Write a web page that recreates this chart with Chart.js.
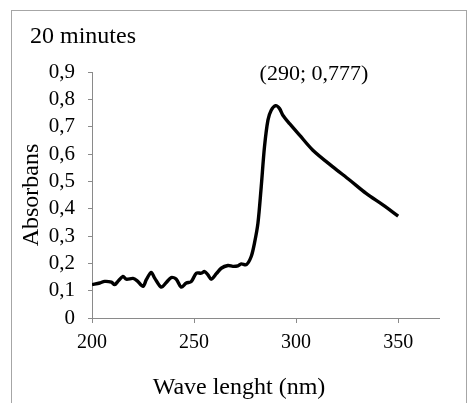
<!DOCTYPE html>
<html>
<head>
<meta charset="utf-8">
<script src="https://cdn.jsdelivr.net/npm/chart.js@4"></script>
<style>
  html, body { margin: 0; padding: 0; background: #fff; }
  #wrap { width: 469px; height: 403px; position: relative; }
</style>
</head>
<body>
<div id="wrap"><canvas id="spectrum" width="469" height="403"></canvas></div>
<script>
        // Absorbance spectrum
        const waveLengths = [200, 203.8, 206.2, 209.5, 211.1, 212.7, 215.2, 216.8, 220.1, 222, 225, 226.6, 229, 230.7,
            233.9, 236.4, 238.8, 241.3, 243.7, 246.2, 248.6, 251.1, 253.5, 255.2, 256.8, 258.4, 260.9, 263.3,
            266.6, 269, 271.5, 273.1, 275.6, 278, 279.6, 281.3, 282.9, 284.5, 286.2, 287.8, 290, 291.9, 293.5,
            296.8, 301.7, 308.2, 318, 326.2, 334.3, 342.5, 350];
        const absorbance = [0.122, 0.128, 0.134, 0.131, 0.122, 0.134, 0.152, 0.142, 0.145, 0.137, 0.116, 0.14, 0.167, 0.146,
            0.113, 0.13, 0.148, 0.142, 0.113, 0.128, 0.133, 0.164, 0.164, 0.17, 0.158, 0.142, 0.162, 0.182,
            0.192, 0.189, 0.191, 0.198, 0.195, 0.225, 0.274, 0.347, 0.48, 0.626, 0.724, 0.76, 0.777, 0.766, 0.742,
            0.711, 0.669, 0.614, 0.553, 0.505, 0.456, 0.414, 0.373];
        const xTicks = [200, 250, 300, 350];
        const chartTitle = '20 minutes';
        const peakLabel = '(290; 0,777)';
        const xTitle = 'Wave lenght (nm)';
        const yTitle = 'Absorbans';

        const serif = '"Liberation Serif", "Times New Roman", serif';
        const axisGray = '#8a8a8a';

        // Frame and free text (title, peak label, x axis title)
        const decorations = {
            id: 'decorations',
            beforeDraw(chart) {
                const ctx = chart.ctx;
                ctx.save();
                ctx.fillStyle = '#fff';
                ctx.fillRect(0, 0, chart.width, chart.height);
                ctx.strokeStyle = '#a6a6a6';
                ctx.lineWidth = 1;
                ctx.strokeRect(11.5, 10.5, 455, 420);
                ctx.restore();
            },
            afterDraw(chart) {
                const ctx = chart.ctx;
                ctx.save();
                ctx.fillStyle = '#000';
                ctx.textBaseline = 'alphabetic';

                ctx.font = '24px ' + serif;
                ctx.textAlign = 'left';
                ctx.fillText(chartTitle, 30, 43);

                ctx.font = '22px ' + serif;
                ctx.textAlign = 'center';
                ctx.fillText(peakLabel, 314, 80);

                ctx.font = '24px ' + serif;
                ctx.textBaseline = 'middle';
                ctx.fillText(xTitle, 239, 388);
                ctx.restore();
            }
        };

        function fmtComma(v) {
            const r = Math.round(v * 10) / 10;
            return r === 0 ? '0' : r.toFixed(1).replace('.', ',');
        }

        new Chart(document.getElementById('spectrum').getContext('2d'), {
            type: 'scatter',
            data: {
                datasets: [{
                    data: waveLengths.map((w, i) => ({ x: w, y: absorbance[i] })),
                    showLine: true,
                    borderColor: '#000',
                    borderWidth: 3.4,
                    pointRadius: 0,
                    tension: 0.3,
                    fill: false
                }]
            },
            options: {
                responsive: false,
                animation: false,
                layout: { padding: { left: 0, top: 72, right: 30, bottom: 0 } },
                plugins: {
                    legend: { display: false },
                    tooltip: { enabled: false }
                },
                scales: {
                    x: {
                        type: 'linear',
                        min: 200,
                        max: 370,
                        afterBuildTicks: s => { s.ticks = xTicks.map(v => ({ value: v })); },
                        afterFit: s => { s.height = 85; },
                        grid: { drawOnChartArea: false, color: axisGray, tickLength: 5 },
                        border: { color: axisGray },
                        ticks: {
                            autoSkip: false,
                            maxRotation: 0,
                            color: '#000',
                            padding: 8,
                            font: { family: serif, size: 20 }
                        }
                    },
                    y: {
                        min: 0,
                        max: 0.9,
                        afterFit: s => { s.width = 92; },
                        grid: { drawOnChartArea: false, color: axisGray, tickLength: 4 },
                        border: { color: axisGray },
                        ticks: {
                            autoSkip: false,
                            stepSize: 0.1,
                            color: '#000',
                            padding: 13,
                            font: { family: serif, size: 21 },
                            callback: v => fmtComma(v)
                        },
                        title: {
                            display: true,
                            text: yTitle,
                            color: '#000',
                            font: { family: serif, size: 24 },
                            padding: { top: 17, bottom: 0 }
                        }
                    }
                }
            },
            plugins: [decorations]
        });
</script>
</body>
</html>
